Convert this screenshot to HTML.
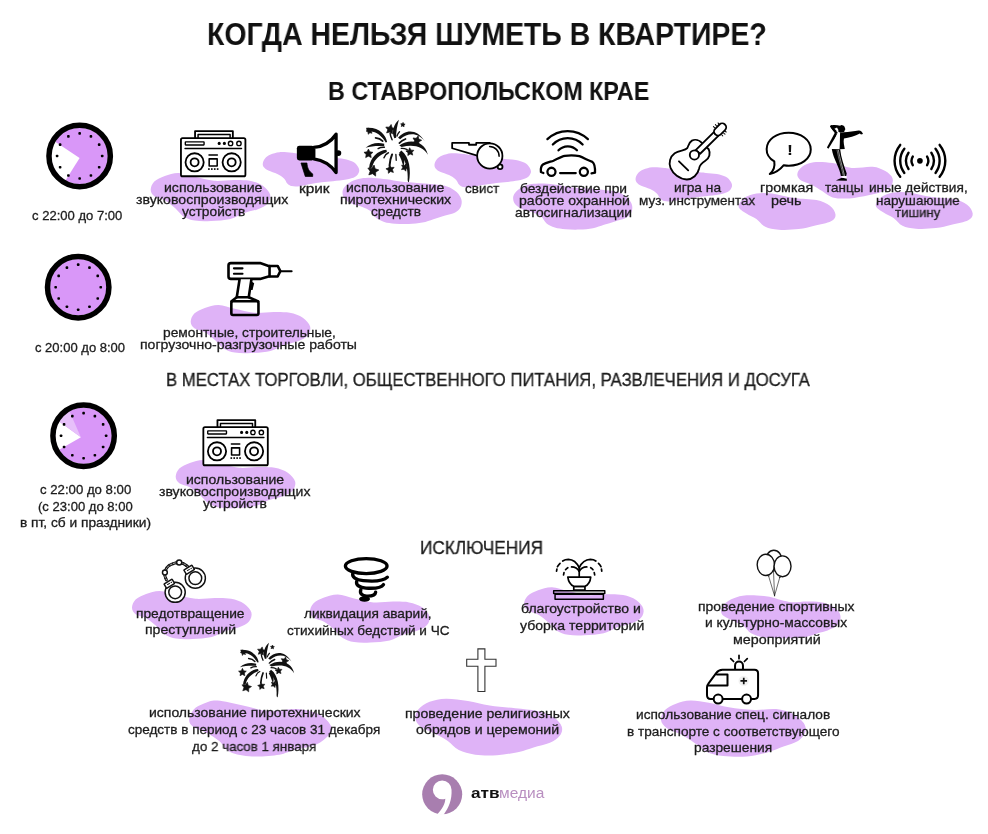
<!DOCTYPE html>
<html lang="ru"><head><meta charset="utf-8"><title>Когда нельзя шуметь в квартире?</title>
<style>
html,body{margin:0;padding:0;background:#fff}
body{width:988px;height:834px;position:relative;overflow:hidden;font-family:"Liberation Sans",sans-serif;color:#1c1c1c}
.art{position:absolute;left:0;top:0}
.t,.b{position:absolute;white-space:nowrap;line-height:1;transform-origin:0 0;will-change:transform}
.t{-webkit-text-stroke:0.3px #1c1c1c}
.b{font-weight:700;color:#111}
.logo{position:absolute;white-space:nowrap;line-height:1;transform-origin:0 0;will-change:transform}
</style></head><body>
<svg class="art" width="988" height="834" viewBox="0 0 988 834">
<g fill="#dfb3f7">
<path d="M150.7 189.7C150.7 187.3 152.0 183.9 154.3 181.6C156.7 179.3 160.8 177.4 164.8 176.0C168.9 174.6 173.6 172.9 178.6 173.0C183.6 173.1 188.9 175.5 194.8 176.8C200.7 178.1 207.7 180.3 214.2 180.8C220.7 181.3 227.7 180.0 233.6 180.0C239.5 180.0 244.9 179.9 249.8 180.8C254.7 181.8 259.4 183.4 262.8 185.7C266.2 188.0 269.3 191.6 270.1 194.6C270.9 197.6 269.7 201.1 267.7 203.5C265.7 205.9 261.9 207.6 257.9 209.2C253.8 210.8 248.0 211.6 243.4 213.2C238.8 214.8 235.8 217.6 230.4 218.9C225.0 220.2 216.9 220.7 211.0 221.0C205.1 221.3 199.4 221.3 194.8 220.5C190.2 219.7 186.7 218.4 183.4 216.4C180.2 214.4 178.4 211.0 175.3 208.3C172.2 205.6 168.3 202.2 164.8 200.2C161.3 198.2 156.7 197.9 154.3 196.2C152.0 194.4 150.7 192.1 150.7 189.7Z"/>
<path d="M262.8 163.4C263.0 161.9 263.7 159.9 265.0 158.4C266.3 156.9 268.2 155.5 270.6 154.5C273.0 153.5 276.0 152.5 279.5 152.2C283.0 151.9 288.4 152.5 291.7 152.8C295.0 153.1 294.5 153.2 299.5 153.9C304.5 154.6 316.2 156.0 321.8 156.7C327.4 157.3 329.3 157.4 333.0 157.8C336.7 158.2 340.8 158.2 344.1 158.9C347.4 159.6 350.7 160.4 353.0 161.7C355.3 163.0 357.0 165.0 358.0 166.7C359.0 168.4 359.6 170.0 359.1 171.7C358.6 173.4 357.3 175.4 355.2 176.7C353.1 178.0 350.0 178.8 346.3 179.5C342.6 180.2 337.1 180.7 333.0 181.2C328.9 181.7 325.5 181.8 321.8 182.3C318.1 182.8 314.4 183.3 310.7 184.0C307.0 184.7 302.7 185.9 299.5 186.2C296.3 186.5 293.7 186.5 291.7 186.0C289.7 185.5 288.6 184.7 287.3 183.4C286.0 182.1 285.7 180.0 284.0 178.4C282.3 176.8 279.9 175.3 277.3 174.0C274.7 172.7 270.6 171.7 268.4 170.6C266.2 169.5 264.8 168.5 263.9 167.3C263.0 166.1 262.6 164.9 262.8 163.4Z"/>
<path d="M342.5 192.5C342.5 190.6 343.1 188.9 344.6 187.1C346.1 185.3 348.7 183.0 351.4 181.6C354.1 180.2 357.4 179.1 361.0 178.5C364.6 177.9 369.0 177.8 373.3 177.9C377.6 178.0 382.3 178.7 386.9 179.3C391.4 179.9 395.6 181.0 400.6 181.6C405.6 182.2 411.5 182.6 417.0 183.0C422.5 183.4 428.4 183.7 433.4 184.3C438.4 184.9 443.1 185.1 447.0 186.4C450.9 187.7 454.2 189.7 456.6 191.9C459.0 194.1 460.7 196.9 461.4 199.4C462.1 201.9 461.7 204.7 460.7 206.9C459.7 209.1 457.9 210.9 455.2 212.4C452.5 213.9 447.9 214.7 444.3 215.8C440.7 216.9 437.0 218.1 433.4 219.2C429.8 220.3 426.5 221.8 422.4 222.6C418.3 223.4 413.4 223.8 408.8 224.0C404.2 224.2 399.2 224.0 395.1 223.7C391.0 223.3 387.4 222.9 384.2 221.9C381.0 220.9 378.3 219.6 376.0 217.8C373.7 216.0 372.8 212.8 370.5 211.0C368.2 209.2 365.5 208.2 362.3 206.9C359.1 205.7 354.3 204.9 351.4 203.5C348.4 202.1 346.1 200.5 344.6 198.7C343.1 196.9 342.5 194.4 342.5 192.5Z"/>
<path d="M434.5 164.5C434.7 163.0 435.4 161.0 436.7 159.5C438.0 158.0 439.9 156.6 442.3 155.6C444.7 154.6 447.7 153.6 451.2 153.3C454.7 153.0 460.1 153.6 463.4 153.9C466.7 154.2 466.2 154.3 471.2 155.0C476.2 155.7 487.9 157.1 493.5 157.8C499.1 158.4 501.0 158.5 504.7 158.9C508.4 159.3 512.5 159.3 515.8 160.0C519.1 160.7 522.4 161.5 524.7 162.8C527.0 164.1 528.7 166.1 529.7 167.8C530.7 169.5 531.3 171.1 530.8 172.8C530.3 174.5 529.0 176.5 526.9 177.8C524.8 179.1 521.7 179.8 518.0 180.6C514.3 181.3 508.8 181.8 504.7 182.3C500.6 182.8 497.2 182.9 493.5 183.4C489.8 183.9 486.1 184.4 482.4 185.1C478.7 185.8 474.4 187.0 471.2 187.3C468.0 187.6 465.4 187.6 463.4 187.1C461.4 186.6 460.3 185.8 459.0 184.5C457.7 183.2 457.4 181.1 455.7 179.5C454.0 177.9 451.6 176.4 449.0 175.1C446.4 173.8 442.3 172.8 440.1 171.7C437.9 170.6 436.5 169.6 435.6 168.4C434.7 167.2 434.3 166.0 434.5 164.5Z"/>
<path d="M513.1 198.1C513.1 196.2 513.7 194.5 515.2 192.7C516.7 190.9 519.3 188.6 522.0 187.2C524.7 185.8 528.0 184.7 531.6 184.1C535.2 183.5 539.6 183.4 543.9 183.5C548.2 183.6 553.0 184.3 557.5 184.9C562.0 185.5 566.2 186.6 571.2 187.2C576.2 187.8 582.1 188.1 587.6 188.6C593.1 189.1 599.0 189.3 604.0 189.9C609.0 190.5 613.7 190.7 617.6 192.0C621.5 193.3 624.8 195.3 627.2 197.5C629.6 199.7 631.3 202.5 632.0 205.0C632.7 207.5 632.3 210.3 631.3 212.5C630.3 214.7 628.5 216.5 625.8 218.0C623.1 219.5 618.5 220.3 614.9 221.4C611.3 222.5 607.6 223.7 604.0 224.8C600.4 225.9 597.1 227.4 593.0 228.2C588.9 229.0 583.9 229.4 579.4 229.6C574.9 229.8 569.8 229.6 565.7 229.3C561.6 228.9 558.0 228.5 554.8 227.5C551.6 226.5 548.9 225.2 546.6 223.4C544.3 221.6 543.4 218.4 541.1 216.6C538.8 214.8 536.1 213.8 532.9 212.5C529.7 211.2 525.0 210.5 522.0 209.1C519.0 207.7 516.7 206.1 515.2 204.3C513.7 202.5 513.1 200.0 513.1 198.1Z"/>
<path d="M635.6 178.5C635.8 177.0 636.5 175.0 637.8 173.5C639.1 172.0 641.0 170.6 643.4 169.6C645.8 168.6 648.8 167.6 652.3 167.3C655.8 167.0 661.2 167.6 664.5 167.9C667.8 168.2 667.3 168.3 672.3 169.0C677.3 169.7 689.0 171.1 694.6 171.8C700.2 172.4 702.1 172.5 705.8 172.9C709.5 173.3 713.6 173.3 716.9 174.0C720.2 174.7 723.5 175.5 725.8 176.8C728.1 178.1 729.8 180.1 730.8 181.8C731.8 183.5 732.4 185.1 731.9 186.8C731.4 188.5 730.1 190.5 728.0 191.8C725.9 193.1 722.8 193.8 719.1 194.6C715.4 195.3 709.9 195.8 705.8 196.3C701.7 196.8 698.3 196.9 694.6 197.4C690.9 197.9 687.2 198.4 683.5 199.1C679.8 199.8 675.5 201.0 672.3 201.3C669.1 201.6 666.5 201.6 664.5 201.1C662.5 200.6 661.4 199.8 660.1 198.5C658.8 197.2 658.5 195.1 656.8 193.5C655.1 191.9 652.7 190.4 650.1 189.1C647.5 187.8 643.4 186.8 641.2 185.7C639.0 184.6 637.6 183.6 636.7 182.4C635.8 181.2 635.4 180.0 635.6 178.5Z"/>
<path d="M738.6 206.8C738.2 204.2 741.2 200.1 744.2 197.9C747.2 195.7 751.8 194.2 756.4 193.4C761.0 192.7 765.7 192.7 772.0 193.4C778.3 194.2 786.9 196.8 794.3 197.9C801.7 199.0 810.6 198.8 816.5 200.1C822.4 201.4 826.7 203.3 829.9 205.7C833.1 208.1 835.3 212.0 835.5 214.6C835.7 217.2 834.5 219.5 831.0 221.3C827.5 223.2 819.7 224.4 814.3 225.7C808.9 227.0 804.6 228.4 798.7 229.1C792.8 229.8 784.3 230.1 778.7 229.7C773.1 229.3 769.0 228.6 765.3 226.8C761.6 225.0 759.5 221.2 756.4 219.0C753.2 216.8 749.4 215.5 746.4 213.5C743.4 211.5 739.0 209.4 738.6 206.8Z"/>
<path d="M797.3 174.2C797.5 171.9 799.4 168.8 802.1 166.8C804.8 164.8 808.6 162.8 813.7 162.2C818.8 161.6 826.3 162.1 832.6 163.1C838.9 164.1 844.9 167.3 851.6 167.9C858.3 168.5 867.0 166.3 872.6 166.8C878.2 167.3 882.0 169.2 885.3 171.1C888.6 173.0 891.7 175.8 892.6 178.4C893.5 181.0 892.4 184.5 890.5 186.8C888.6 189.1 884.8 190.7 881.1 192.1C877.4 193.5 873.7 194.2 868.4 195.3C863.1 196.4 855.5 198.1 849.5 198.4C843.5 198.8 837.2 198.6 832.6 197.4C828.0 196.2 825.6 193.2 822.1 191.1C818.6 189.0 815.1 186.5 811.6 184.7C808.1 182.9 803.5 182.2 801.1 180.5C798.7 178.8 797.1 176.5 797.3 174.2Z"/>
<path d="M875.8 205.8C875.4 203.2 878.4 199.1 881.4 196.9C884.4 194.7 889.0 193.2 893.6 192.4C898.2 191.7 902.9 191.7 909.2 192.4C915.5 193.2 924.1 195.8 931.5 196.9C938.9 198.0 947.8 197.8 953.7 199.1C959.6 200.4 963.9 202.3 967.1 204.7C970.3 207.1 972.5 211.0 972.7 213.6C972.9 216.2 971.7 218.5 968.2 220.3C964.7 222.2 956.9 223.4 951.5 224.7C946.1 226.0 941.8 227.4 935.9 228.1C930.0 228.8 921.5 229.1 915.9 228.7C910.3 228.3 906.2 227.6 902.5 225.8C898.8 224.0 896.7 220.2 893.6 218.0C890.4 215.8 886.6 214.5 883.6 212.5C880.6 210.5 876.2 208.4 875.8 205.8Z"/>
<path d="M190.7 321.7C190.7 319.3 192.0 315.9 194.3 313.6C196.7 311.3 200.8 309.4 204.8 308.0C208.9 306.6 213.6 304.9 218.6 305.0C223.6 305.1 228.9 307.5 234.8 308.8C240.7 310.1 247.7 312.3 254.2 312.8C260.7 313.3 267.7 312.0 273.6 312.0C279.5 312.0 284.9 311.9 289.8 312.8C294.7 313.8 299.4 315.4 302.8 317.7C306.2 320.0 309.3 323.6 310.1 326.6C310.9 329.6 309.7 333.1 307.7 335.5C305.7 337.9 301.9 339.6 297.9 341.2C293.8 342.8 288.0 343.6 283.4 345.2C278.8 346.8 275.8 349.6 270.4 350.9C265.0 352.2 256.9 352.7 251.0 353.0C245.1 353.3 239.4 353.3 234.8 352.5C230.2 351.7 226.7 350.4 223.4 348.4C220.2 346.4 218.4 343.0 215.3 340.3C212.2 337.6 208.3 334.2 204.8 332.2C201.3 330.2 196.7 329.9 194.3 328.2C192.0 326.4 190.7 324.1 190.7 321.7Z"/>
<path d="M175.7 476.7C175.7 474.3 177.0 470.9 179.3 468.6C181.7 466.3 185.8 464.4 189.8 463.0C193.9 461.6 198.6 459.9 203.6 460.0C208.6 460.1 213.9 462.5 219.8 463.8C225.7 465.1 232.7 467.3 239.2 467.8C245.7 468.3 252.7 467.0 258.6 467.0C264.5 467.0 269.9 466.9 274.8 467.8C279.7 468.8 284.4 470.4 287.8 472.7C291.2 475.0 294.3 478.6 295.1 481.6C295.9 484.6 294.7 488.1 292.7 490.5C290.7 492.9 286.9 494.6 282.9 496.2C278.8 497.8 273.0 498.6 268.4 500.2C263.8 501.8 260.8 504.6 255.4 505.9C250.0 507.2 241.9 507.7 236.0 508.0C230.1 508.3 224.4 508.3 219.8 507.5C215.2 506.7 211.7 505.4 208.4 503.4C205.2 501.4 203.4 498.0 200.3 495.3C197.2 492.6 193.3 489.2 189.8 487.2C186.3 485.2 181.7 484.9 179.3 483.2C177.0 481.4 175.7 479.1 175.7 476.7Z"/>
<path d="M132.0 607.7C132.0 605.3 133.3 601.9 135.6 599.6C138.0 597.3 142.1 595.4 146.1 594.0C150.2 592.6 154.9 590.9 159.9 591.0C164.9 591.1 170.2 593.5 176.1 594.8C182.0 596.1 189.0 598.3 195.5 598.8C202.0 599.3 209.0 598.0 214.9 598.0C220.8 598.0 226.2 597.8 231.1 598.8C236.0 599.8 240.7 601.4 244.1 603.7C247.5 606.0 250.6 609.6 251.4 612.6C252.2 615.6 251.0 619.1 249.0 621.5C247.0 623.9 243.2 625.6 239.2 627.2C235.1 628.8 229.3 629.6 224.7 631.2C220.1 632.8 217.1 635.6 211.7 636.9C206.3 638.2 198.2 638.7 192.3 639.0C186.4 639.3 180.7 639.3 176.1 638.5C171.5 637.7 167.9 636.4 164.7 634.4C161.4 632.4 159.7 629.0 156.6 626.3C153.5 623.6 149.6 620.2 146.1 618.2C142.6 616.2 138.0 616.0 135.6 614.2C133.3 612.5 132.0 610.1 132.0 607.7Z"/>
<path d="M310.0 611.3C310.0 608.9 311.2 605.5 313.6 603.2C316.0 600.9 320.1 599.0 324.1 597.6C328.2 596.2 332.9 594.5 337.9 594.6C342.9 594.7 348.2 597.1 354.1 598.4C360.0 599.7 367.0 601.9 373.5 602.4C380.0 602.9 387.0 601.6 392.9 601.6C398.8 601.6 404.2 601.5 409.1 602.4C414.0 603.4 418.7 605.0 422.1 607.3C425.5 609.6 428.6 613.2 429.4 616.2C430.2 619.2 429.0 622.7 427.0 625.1C425.0 627.5 421.2 629.2 417.2 630.8C413.1 632.4 407.3 633.2 402.7 634.8C398.1 636.4 395.1 639.2 389.7 640.5C384.3 641.8 376.2 642.3 370.3 642.6C364.4 642.9 358.7 642.9 354.1 642.1C349.5 641.3 345.9 640.0 342.7 638.0C339.4 636.0 337.7 632.6 334.6 629.9C331.5 627.2 327.6 623.8 324.1 621.8C320.6 619.8 316.0 619.5 313.6 617.8C311.2 616.0 310.0 613.7 310.0 611.3Z"/>
<path d="M524.0 604.0C524.0 601.6 525.2 598.2 527.6 595.9C530.0 593.6 534.1 591.7 538.1 590.3C542.1 588.9 546.9 587.2 551.9 587.3C556.9 587.4 562.2 589.8 568.1 591.1C574.0 592.4 581.0 594.6 587.5 595.1C594.0 595.6 601.0 594.3 606.9 594.3C612.8 594.3 618.2 594.1 623.1 595.1C628.0 596.1 632.7 597.7 636.1 600.0C639.5 602.3 642.6 605.9 643.4 608.9C644.2 611.9 643.0 615.4 641.0 617.8C639.0 620.2 635.2 621.9 631.2 623.5C627.2 625.1 621.3 625.9 616.7 627.5C612.1 629.1 609.1 631.9 603.7 633.2C598.3 634.5 590.2 635.0 584.3 635.3C578.4 635.6 572.7 635.6 568.1 634.8C563.5 634.0 560.0 632.7 556.7 630.7C553.5 628.7 551.7 625.3 548.6 622.6C545.5 619.9 541.6 616.5 538.1 614.5C534.6 612.5 530.0 612.2 527.6 610.5C525.2 608.8 524.0 606.4 524.0 604.0Z"/>
<path d="M721.1 611.4C721.0 609.5 721.8 607.0 723.5 605.0C725.2 603.0 728.1 600.8 731.3 599.3C734.5 597.8 738.4 596.4 742.6 595.8C746.9 595.1 752.3 595.2 756.8 595.4C761.3 595.6 765.5 596.0 769.5 596.8C773.5 597.6 777.1 599.1 780.9 600.0C784.7 600.9 788.0 602.0 792.2 602.2C796.5 602.5 801.7 601.5 806.4 601.5C811.1 601.5 816.2 601.5 820.5 602.2C824.8 602.9 828.8 604.1 831.9 605.7C835.0 607.4 837.6 609.9 839.0 612.1C840.4 614.4 840.8 617.0 840.4 619.2C840.0 621.5 838.9 623.7 836.8 625.6C834.7 627.5 830.8 629.2 827.6 630.5C824.4 631.8 821.2 632.2 817.7 633.3C814.2 634.4 810.6 636.1 806.4 636.9C802.1 637.7 797.1 638.1 792.2 638.3C787.3 638.5 781.7 638.1 777.0 638.0C772.3 637.9 768.1 638.4 763.8 637.6C759.5 636.8 754.4 635.2 751.1 633.3C747.8 631.4 746.8 628.3 744.0 626.3C741.2 624.3 737.4 623.0 734.1 621.3C730.8 619.6 726.4 617.9 724.2 616.3C722.0 614.6 721.2 613.3 721.1 611.4Z"/>
<path d="M189.1 720.1C189.1 717.1 191.2 712.3 193.7 709.5C196.2 706.7 200.1 705.0 204.0 703.5C207.9 702.0 210.9 700.3 217.4 700.6C223.9 700.9 234.4 703.8 242.9 705.5C251.4 707.2 259.3 710.4 268.4 711.0C277.5 711.6 289.0 708.5 297.5 709.1C306.0 709.7 313.8 711.7 319.4 714.6C325.0 717.5 329.7 722.9 331.2 726.4C332.7 729.9 331.1 732.5 328.5 735.5C325.9 738.5 321.5 742.3 315.7 744.7C309.9 747.1 300.0 748.4 293.9 750.1C287.8 751.8 286.3 753.6 279.3 754.7C272.3 755.8 260.2 757.0 252.0 756.5C243.8 756.0 235.6 754.6 230.1 752.0C224.6 749.4 223.1 744.2 219.2 741.0C215.2 737.8 210.7 735.1 206.4 732.8C202.2 730.5 196.6 729.4 193.7 727.3C190.8 725.2 189.1 723.1 189.1 720.1Z"/>
<path d="M415.4 718.2C415.1 715.3 416.3 711.8 418.7 709.1C421.1 706.4 425.1 703.5 429.6 701.8C434.2 700.1 439.6 698.9 446.0 698.7C452.4 698.6 460.6 699.8 467.9 700.9C475.2 702.0 481.8 704.3 489.7 705.5C497.6 706.7 507.3 707.3 515.2 708.2C523.1 709.1 530.7 709.5 537.1 711.0C543.5 712.5 549.4 714.7 553.5 717.3C557.6 719.9 560.6 723.4 561.7 726.4C562.8 729.4 561.9 732.8 559.9 735.5C557.9 738.2 554.3 740.8 549.9 742.8C545.5 744.8 538.7 745.9 533.5 747.4C528.3 748.9 525.0 750.6 518.9 751.9C512.8 753.2 504.3 754.7 497.0 755.2C489.7 755.7 481.6 755.6 475.2 754.7C468.8 753.9 463.4 752.4 458.8 750.1C454.2 747.8 451.8 743.7 447.8 741.0C443.9 738.3 439.7 736.1 435.1 733.7C430.6 731.3 423.8 729.0 420.5 726.4C417.2 723.8 415.7 721.1 415.4 718.2Z"/>
<path d="M661.0 720.1C660.7 717.1 662.5 712.7 665.0 710.0C667.5 707.3 671.8 705.3 676.0 703.7C680.2 702.1 685.0 700.8 690.5 700.6C696.0 700.5 702.4 701.7 708.8 702.8C715.2 703.9 721.2 706.1 728.8 707.3C736.4 708.5 746.4 709.7 754.3 710.0C762.2 710.3 769.8 708.5 776.2 709.1C782.6 709.7 788.1 711.4 792.6 713.7C797.1 716.0 801.4 719.8 803.5 722.8C805.6 725.8 806.2 728.9 805.3 731.9C804.4 734.9 801.6 738.6 798.0 741.0C794.4 743.4 788.4 744.7 783.5 746.5C778.6 748.3 775.0 750.2 768.9 751.9C762.8 753.6 754.6 755.8 747.0 756.5C739.4 757.2 730.0 756.8 723.3 756.0C716.6 755.2 711.8 754.1 706.9 751.9C702.0 749.7 698.5 745.7 694.2 742.8C690.0 739.9 686.0 737.0 681.4 734.6C676.8 732.2 670.3 730.7 666.9 728.3C663.5 725.9 661.3 723.1 661.0 720.1Z"/>
</g>
<circle cx="79.65" cy="155.95" r="28.25" fill="#d997f8"/><path d="M79.60 158.00 L65.53 180.42 A28.25 28.25 0 0 1 55.18 141.82 Z" fill="#fff"/><circle cx="79.65" cy="155.95" r="30.70" fill="none" stroke="#000" stroke-width="5.50"/><rect x="78.35" y="132.10" width="2.6" height="2.6" rx="0.8" fill="#000"/><rect x="89.63" y="135.12" width="2.6" height="2.6" rx="0.8" fill="#000"/><rect x="97.88" y="143.37" width="2.6" height="2.6" rx="0.8" fill="#000"/><rect x="100.90" y="154.65" width="2.6" height="2.6" rx="0.8" fill="#000"/><rect x="97.88" y="165.92" width="2.6" height="2.6" rx="0.8" fill="#000"/><rect x="89.63" y="174.18" width="2.6" height="2.6" rx="0.8" fill="#000"/><rect x="78.35" y="177.20" width="2.6" height="2.6" rx="0.8" fill="#000"/><rect x="67.08" y="174.18" width="2.6" height="2.6" rx="0.8" fill="#000"/><rect x="58.82" y="165.92" width="2.6" height="2.6" rx="0.8" fill="#000"/><rect x="55.80" y="154.65" width="2.6" height="2.6" rx="0.8" fill="#000"/><rect x="58.82" y="143.37" width="2.6" height="2.6" rx="0.8" fill="#000"/><rect x="67.08" y="135.12" width="2.6" height="2.6" rx="0.8" fill="#000"/>
<circle cx="78.20" cy="287.20" r="28.25" fill="#d997f8"/><circle cx="78.20" cy="287.20" r="30.70" fill="none" stroke="#000" stroke-width="5.50"/><rect x="76.90" y="263.35" width="2.6" height="2.6" rx="0.8" fill="#000"/><rect x="88.17" y="266.37" width="2.6" height="2.6" rx="0.8" fill="#000"/><rect x="96.43" y="274.62" width="2.6" height="2.6" rx="0.8" fill="#000"/><rect x="99.45" y="285.90" width="2.6" height="2.6" rx="0.8" fill="#000"/><rect x="96.43" y="297.17" width="2.6" height="2.6" rx="0.8" fill="#000"/><rect x="88.17" y="305.43" width="2.6" height="2.6" rx="0.8" fill="#000"/><rect x="76.90" y="308.45" width="2.6" height="2.6" rx="0.8" fill="#000"/><rect x="65.62" y="305.43" width="2.6" height="2.6" rx="0.8" fill="#000"/><rect x="57.37" y="297.18" width="2.6" height="2.6" rx="0.8" fill="#000"/><rect x="54.35" y="285.90" width="2.6" height="2.6" rx="0.8" fill="#000"/><rect x="57.37" y="274.62" width="2.6" height="2.6" rx="0.8" fill="#000"/><rect x="65.62" y="266.37" width="2.6" height="2.6" rx="0.8" fill="#000"/>
<circle cx="83.60" cy="435.70" r="28.25" fill="#d997f8"/><path d="M80.90 437.20 L59.13 449.82 A28.25 28.25 0 0 1 59.13 421.57 Z" fill="#fff"/><path d="M80.90 437.20 L59.13 421.57 A28.25 28.25 0 0 1 69.47 411.23 Z" fill="#e7c0fa"/><circle cx="83.60" cy="435.70" r="30.70" fill="none" stroke="#000" stroke-width="5.50"/><rect x="82.30" y="411.85" width="2.6" height="2.6" rx="0.8" fill="#000"/><rect x="93.58" y="414.87" width="2.6" height="2.6" rx="0.8" fill="#000"/><rect x="101.83" y="423.12" width="2.6" height="2.6" rx="0.8" fill="#000"/><rect x="104.85" y="434.40" width="2.6" height="2.6" rx="0.8" fill="#000"/><rect x="101.83" y="445.67" width="2.6" height="2.6" rx="0.8" fill="#000"/><rect x="93.58" y="453.93" width="2.6" height="2.6" rx="0.8" fill="#000"/><rect x="82.30" y="456.95" width="2.6" height="2.6" rx="0.8" fill="#000"/><rect x="71.02" y="453.93" width="2.6" height="2.6" rx="0.8" fill="#000"/><rect x="62.77" y="445.68" width="2.6" height="2.6" rx="0.8" fill="#000"/><rect x="59.75" y="434.40" width="2.6" height="2.6" rx="0.8" fill="#000"/><rect x="62.77" y="423.12" width="2.6" height="2.6" rx="0.8" fill="#000"/><rect x="71.02" y="414.87" width="2.6" height="2.6" rx="0.8" fill="#000"/>
<svg x="170.00" y="122.00" width="90.00" height="60.00" viewBox="0 0 988 659" overflow="visible"><g fill="none" stroke="#000" stroke-width="20" stroke-linejoin="round" stroke-linecap="round"><path d="M275 170V100H690V170" /><path d="M308 170V138H660V170" stroke-width="16"/><rect x="120" y="178" width="708" height="418" rx="18" fill="#fff"/><rect x="168" y="218" width="206" height="34" rx="4" stroke-width="15"/><path d="M165 291H785" stroke-width="16"/><circle cx="270" cy="443" r="100"/><circle cx="270" cy="443" r="44"/><circle cx="677" cy="443" r="100"/><circle cx="677" cy="443" r="44"/><circle cx="665" cy="235" r="24" stroke-width="15"/><circle cx="757" cy="235" r="24" stroke-width="15"/><rect x="430" y="405" width="88" height="78" stroke-width="17"/><path d="M428 362H520" stroke-width="16"/></g><circle cx="540" cy="235" r="17"/><circle cx="597" cy="235" r="17"/><g fill="#000"><rect x="418" y="508" width="18" height="18"/><rect x="450" y="508" width="18" height="18"/><rect x="482" y="508" width="18" height="18"/><rect x="514" y="508" width="18" height="18"/></g></svg>
<svg x="285.00" y="125.00" width="70.00" height="60.00" viewBox="0 0 973 834" overflow="visible"><path d="M400 312 C540 300 640 230 710 128 V660 C640 560 540 490 400 470Z" fill="#fff" stroke="#000" stroke-width="46" stroke-linejoin="round"/><rect x="165" y="290" width="240" height="202" rx="34" fill="#000"/><circle cx="742" cy="390" r="40" fill="#000"/><path d="M222 528H305 C310 600 330 640 385 680 V715 H282 Z" fill="#000" stroke="#000" stroke-width="10" stroke-linejoin="round"/></svg>
<svg x="355.00" y="115.00" width="80.00" height="70.00" viewBox="0 0 953 834" overflow="visible"><g fill="#111"><path d="M382 322 C368 240 290 140 135 152 C128 175 150 200 178 198 C250 195 320 250 366 328Z"/><path d="M468 278 C432 200 462 110 523 57 C503 130 488 200 490 272Z"/><path d="M513 272 C590 174 735 152 832 314 C748 206 632 208 538 290Z"/><path d="M528 362 C640 282 828 298 868 474 C810 378 700 346 556 382Z"/><path d="M552 424 C650 500 670 660 642 802 C626 802 626 780 628 740 C628 620 596 525 524 452Z"/><path d="M374 414 C270 420 180 510 168 628 C178 636 200 632 206 616 C226 535 296 475 380 442Z"/><path d="M348 344 C270 322 185 338 126 390 C190 372 270 366 348 372Z"/><path d="M545 452 C592 500 596 565 576 615 C560 560 548 515 520 472Z"/></g><g fill="none" stroke="#111" stroke-linecap="round"><path d="M245 272 C280 275 310 290 330 312" stroke-width="20"/><path d="M275 400 C300 385 325 382 350 384" stroke-width="17"/><path d="M345 510 C355 480 375 460 398 450" stroke-width="17"/><path d="M412 600 C415 550 425 510 442 470" stroke-width="24"/><path d="M487 470 C489 495 490 520 491 540" stroke-width="16"/><path d="M500 250 C505 230 515 215 530 200" stroke-width="16"/><path d="M418 215 C420 245 430 270 442 295" stroke-width="18"/><path d="M528 335 C550 310 575 295 602 285" stroke-width="19"/><path d="M552 398 C575 396 600 402 622 412" stroke-width="17"/></g><g fill="#111" stroke="#111" stroke-width="8" stroke-linejoin="round"><polygon points="161.6,153.4 179.2,173.3 205.5,170.2 192.0,193.0 203.1,217.2 177.2,211.3 157.7,229.3 155.2,202.9 132.1,189.9 156.5,179.4"/><polygon points="430.4,112.9 441.6,151.2 479.4,163.6 446.5,186.1 446.3,225.9 414.8,201.5 376.8,213.7 390.3,176.2 367.0,143.8 406.8,145.0"/><polygon points="572.4,88.1 579.2,105.4 597.3,109.7 582.9,121.5 584.4,140.0 568.8,129.9 551.6,137.1 556.4,119.1 544.2,105.1 562.8,104.0"/><polygon points="752.5,249.9 759.8,286.4 793.9,301.1 761.5,319.2 758.1,356.3 730.8,331.0 694.5,339.2 710.0,305.5 691.0,273.5 728.0,277.9"/><polygon points="650.6,390.2 667.9,418.6 701.0,420.5 679.4,445.6 687.8,477.7 657.2,464.9 629.2,482.9 632.0,449.8 606.3,428.8 638.6,421.1"/><polygon points="160.0,406.0 176.5,439.3 213.3,444.7 186.6,470.7 192.9,507.3 160.0,490.0 127.1,507.3 133.4,470.7 106.7,444.7 143.5,439.3"/><polygon points="227.2,596.1 240.2,640.7 284.3,655.3 245.9,681.4 245.7,727.9 208.9,699.5 164.6,713.6 180.3,669.9 153.2,632.1 199.7,633.5"/><polygon points="411.0,596.8 431.4,624.6 465.9,623.6 445.7,651.6 457.4,684.1 424.5,673.6 397.2,694.7 397.0,660.2 368.5,640.8 401.3,629.9"/><polygon points="607.7,581.8 611.1,612.1 638.0,626.6 610.1,639.2 604.7,669.2 584.1,646.6 553.9,650.7 569.0,624.2 555.8,596.7 585.7,602.9"/></g></svg>
<svg x="440.00" y="128.00" width="80.00" height="60.00" viewBox="0 0 988 741" overflow="visible"><g fill="#fff" stroke="#000" stroke-width="22" stroke-linejoin="round" stroke-linecap="round"><circle cx="742" cy="478" r="30"/><path d="M150 185H358V207H447V185H615 L470 345 L150 250Z"/><circle cx="615" cy="345" r="156"/><path d="M612 228 A118 118 0 0 1 730 350" fill="none" stroke-width="18"/></g></svg>
<svg x="530.00" y="122.00" width="80.00" height="60.00" viewBox="0 0 988 741" overflow="visible"><g fill="none" stroke="#000" stroke-width="28" stroke-linecap="round" stroke-linejoin="round"><path d="M215 212 A362 362 0 0 1 715 212"/><path d="M282 277 A254 254 0 0 1 650 277"/><path d="M352 350 A157 157 0 0 1 580 348"/><path d="M165 630 L135 618 C130 575 135 545 160 525 C200 500 260 490 290 478 C340 455 390 425 430 418 C490 410 560 412 610 422 C660 440 720 475 770 492 C795 510 805 560 803 625 L760 634"/><circle cx="265" cy="615" r="50"/><circle cx="665" cy="615" r="50"/><path d="M372 630H565"/></g></svg>
<svg x="660.00" y="115.00" width="80.00" height="70.00" viewBox="0 0 953 834" overflow="visible"><g fill="#fff" stroke="#000" stroke-width="22" stroke-linejoin="round" stroke-linecap="round"><path d="M500 332 C470 300 420 285 380 305 C345 325 340 365 325 395 C300 425 230 420 175 455 C120 495 100 570 125 630 C155 700 230 765 320 768 C390 765 450 710 465 640 C470 600 500 570 540 545 C590 515 605 455 580 408Z"/><path d="M425 418 L645 200 L695 248 L478 462Z"/><rect x="-82" y="-47" width="164" height="94" rx="46" transform="translate(716,172) rotate(-45)"/><circle cx="410" cy="476" r="55"/><path d="M226 552 L336 660" fill="none"/></g><g stroke="#000" stroke-width="12" stroke-linecap="round"><path d="M650 150l-14 -12M672 128l-12 -14M700 108l-8 -14M775 195l14 8M760 218l14 10M738 238l10 12"/></g></svg>
<svg x="755.00" y="125.00" width="70.00" height="60.00" viewBox="0 0 973 834" overflow="visible"><path d="M268 505 C190 460 160 400 162 335 C165 200 300 108 468 108 C640 108 775 205 775 340 C775 470 640 565 470 565 C445 565 420 562 400 558 C350 620 290 665 205 680 C255 640 280 580 268 505Z" fill="#fff" stroke="#000" stroke-width="28" stroke-linejoin="round"/></svg>
<svg x="815.00" y="118.00" width="60.00" height="70.00" viewBox="0 0 715 834" overflow="visible"><g fill="#000"><path d="M180 95 C200 78 260 80 300 92 C310 75 340 85 352 105 L362 135 C350 145 355 160 345 168 L300 175 L262 150 L240 170 L215 150 C200 130 185 115 180 95Z"/><path d="M178 98 L198 84 L272 178 L244 192Z"/><path d="M232 128 L262 112 L282 150 L262 158Z" fill="#fff"/><path d="M238 172 L268 190 L160 365 L142 352Z"/><path d="M300 175 L345 170 C400 168 470 160 520 150 C545 148 565 170 572 190 L548 198 L535 185 C480 215 400 235 345 245 C335 290 350 330 355 368 L290 372 C295 300 290 240 300 175Z"/><path d="M200 368 L300 372 C310 470 345 570 378 660 L372 690 L308 692 C300 600 215 480 200 368Z"/><path d="M250 745 C270 730 300 722 325 712 L378 722 L380 748Z"/></g><path d="M262 192 L298 188 L290 370 L198 350Z" fill="#fff"/><path d="M278 380 C295 480 330 590 352 690" fill="none" stroke="#fff" stroke-width="7"/><path d="M262 380 C280 480 315 590 338 690" fill="none" stroke="#fff" stroke-width="5"/><path d="M310 694 L376 690 L378 720 L325 712Z" fill="#fff"/></svg>
<svg x="885.00" y="135.00" width="70.00" height="52.00" viewBox="0 0 988 734" overflow="visible"><circle cx="493" cy="365" r="40" fill="#000"/><g fill="none" stroke="#000" stroke-width="34" stroke-linecap="round"><path d="M391.9 304.2 A118 118 0 0 0 391.9 425.8"/><path d="M594.1 304.2 A118 118 0 0 1 594.1 425.8"/><path d="M331.8 250.0 A198 198 0 0 0 331.8 480.0"/><path d="M654.2 250.0 A198 198 0 0 1 654.2 480.0"/><path d="M273.0 195.0 A278 278 0 0 0 273.0 535.0"/><path d="M713.0 195.0 A278 278 0 0 1 713.0 535.0"/><path d="M214.8 139.7 A358 358 0 0 0 214.8 590.3"/><path d="M771.2 139.7 A358 358 0 0 1 771.2 590.3"/></g></svg>
<svg x="220.00" y="255.00" width="80.00" height="66.00" viewBox="0 0 988 815" overflow="visible"><g fill="none" stroke="#000" stroke-width="32" stroke-linejoin="round" stroke-linecap="round"><path d="M135 100 H495 L600 135 H712 L745 200 L712 265 H600 L495 295 H135 C115 295 105 285 105 265 V130 C105 110 115 100 135 100Z" fill="#fff"/><path d="M612 137V263"/><path d="M172 165H278M172 232H278" stroke-width="26"/><path d="M750 200H885" stroke-width="24"/><path d="M242 300 L207 522 L355 522 L388 300" fill="#fff"/><path d="M207 522 L142 572 M355 522 L472 572"/><rect x="140" y="572" width="335" height="168" rx="20"/></g><path d="M385 325 L422 348 L402 432 L372 432Z" fill="#000"/></svg>
<svg x="192.40" y="411.00" width="90.00" height="60.00" viewBox="0 0 988 659" overflow="visible"><g fill="none" stroke="#000" stroke-width="20" stroke-linejoin="round" stroke-linecap="round"><path d="M275 170V100H690V170" /><path d="M308 170V138H660V170" stroke-width="16"/><rect x="120" y="178" width="708" height="418" rx="18" fill="#fff"/><rect x="168" y="218" width="206" height="34" rx="4" stroke-width="15"/><path d="M165 291H785" stroke-width="16"/><circle cx="270" cy="443" r="100"/><circle cx="270" cy="443" r="44"/><circle cx="677" cy="443" r="100"/><circle cx="677" cy="443" r="44"/><circle cx="665" cy="235" r="24" stroke-width="15"/><circle cx="757" cy="235" r="24" stroke-width="15"/><rect x="430" y="405" width="88" height="78" stroke-width="17"/><path d="M428 362H520" stroke-width="16"/></g><circle cx="540" cy="235" r="17"/><circle cx="597" cy="235" r="17"/><g fill="#000"><rect x="418" y="508" width="18" height="18"/><rect x="450" y="508" width="18" height="18"/><rect x="482" y="508" width="18" height="18"/><rect x="514" y="508" width="18" height="18"/></g></svg>
<svg x="152.00" y="553.00" width="64.00" height="56.00" viewBox="0 0 953 834" overflow="visible"><g fill="#fff" stroke="#111" stroke-width="22" stroke-linejoin="round" stroke-linecap="round"><path d="M215 400 C190 360 185 320 190 290 C205 230 240 190 275 175 C320 150 370 140 405 140 C450 145 490 165 530 200" fill="none" stroke-width="44"/><path d="M215 400 C190 360 185 320 190 290 C205 230 240 190 275 175 C320 150 370 140 405 140 C450 145 490 165 530 200" fill="none" stroke="#fff" stroke-width="10"/><path d="M215 400 C190 360 185 320 190 290 C205 230 240 190 275 175 C320 150 370 140 405 140 C450 145 490 165 530 200" fill="none" stroke="#111" stroke-width="44" stroke-dasharray="12 42" stroke-dashoffset="-20" stroke-linecap="butt"/><circle cx="192" cy="290" r="36"/><circle cx="405" cy="142" r="38"/><circle cx="345" cy="585" r="150"/><circle cx="345" cy="585" r="95"/><circle cx="645" cy="375" r="150"/><circle cx="645" cy="375" r="95"/><rect x="-70" y="-38" width="140" height="76" rx="6" transform="translate(258,458) rotate(-32)"/><rect x="-70" y="-38" width="140" height="76" rx="6" transform="translate(553,250) rotate(-32)"/></g><g stroke="#111" stroke-width="16" stroke-linecap="round"><path d="M232 470l30 -18M285 440l6 -4M527 262l30 -18M580 232l6 -4"/></g></svg>
<svg x="335.00" y="553.00" width="64.00" height="56.00" viewBox="0 0 953 834" overflow="visible"><g fill="none" stroke="#000" stroke-width="50" stroke-linecap="round"><ellipse cx="465" cy="195" rx="310" ry="112"/><path d="M265 300 C250 360 310 400 420 412 C560 425 720 420 780 360"/><path d="M322 425 C310 480 370 515 460 522 C570 530 690 520 722 470"/><path d="M385 545 C365 600 400 640 470 642 C540 645 600 625 605 585"/></g><ellipse cx="440" cy="685" rx="82" ry="42" fill="#000"/></svg>
<svg x="545.00" y="550.00" width="70.00" height="56.00" viewBox="0 0 988 790" overflow="visible"><g fill="none" stroke="#000" stroke-width="24" stroke-linejoin="round" stroke-linecap="round"><rect x="122" y="575" width="722" height="39" stroke-width="20"/><rect x="142" y="626" width="682" height="68" stroke-width="21"/><rect x="406" y="515" width="158" height="52" fill="#fff"/><path d="M322 382 H645 C640 440 610 490 565 512 H405 C360 490 330 440 322 382Z" fill="#fff"/><path d="M483 375V240"/><path d="M483 250 C450 180 400 135 330 132 C300 132 270 142 250 155"/><path d="M483 250 C515 180 570 135 640 132 C670 132 700 142 718 155"/><path d="M483 300 C460 260 420 238 375 238"/><path d="M483 300 C505 260 545 238 590 238"/><path d="M212 188 C195 205 183 220 176 235 M168 270 L163 298" /><path d="M755 188 C772 205 783 220 790 235 M797 270 L801 298" /><path d="M322 250 C308 258 298 268 290 278 M268 318 L262 350"/><path d="M645 250 C660 258 670 268 677 278 M695 318 L701 350"/></g></svg>
<svg x="745.00" y="544.00" width="60.00" height="58.00" viewBox="0 0 863 834" overflow="visible"><g fill="#fff" stroke="#111" stroke-width="20"><ellipse cx="415" cy="238" rx="118" ry="148"/><ellipse cx="300" cy="300" rx="125" ry="152"/><ellipse cx="540" cy="320" rx="122" ry="150"/></g><g fill="none" stroke="#111" stroke-width="9" stroke-linecap="round"><path d="M340 462L425 745M410 392L425 745M500 480L425 745"/></g><path d="M325 468l28 -4l-6 -22Z M486 486l28 4l-10 -24Z" fill="#111"/></svg>
<svg x="230.73" y="638.65" width="69.67" height="60.96" viewBox="0 0 953 834" overflow="visible"><g fill="#111"><path d="M382 322 C368 240 290 140 135 152 C128 175 150 200 178 198 C250 195 320 250 366 328Z"/><path d="M468 278 C432 200 462 110 523 57 C503 130 488 200 490 272Z"/><path d="M513 272 C590 174 735 152 832 314 C748 206 632 208 538 290Z"/><path d="M528 362 C640 282 828 298 868 474 C810 378 700 346 556 382Z"/><path d="M552 424 C650 500 670 660 642 802 C626 802 626 780 628 740 C628 620 596 525 524 452Z"/><path d="M374 414 C270 420 180 510 168 628 C178 636 200 632 206 616 C226 535 296 475 380 442Z"/><path d="M348 344 C270 322 185 338 126 390 C190 372 270 366 348 372Z"/><path d="M545 452 C592 500 596 565 576 615 C560 560 548 515 520 472Z"/></g><g fill="none" stroke="#111" stroke-linecap="round"><path d="M245 272 C280 275 310 290 330 312" stroke-width="20"/><path d="M275 400 C300 385 325 382 350 384" stroke-width="17"/><path d="M345 510 C355 480 375 460 398 450" stroke-width="17"/><path d="M412 600 C415 550 425 510 442 470" stroke-width="24"/><path d="M487 470 C489 495 490 520 491 540" stroke-width="16"/><path d="M500 250 C505 230 515 215 530 200" stroke-width="16"/><path d="M418 215 C420 245 430 270 442 295" stroke-width="18"/><path d="M528 335 C550 310 575 295 602 285" stroke-width="19"/><path d="M552 398 C575 396 600 402 622 412" stroke-width="17"/></g><g fill="#111" stroke="#111" stroke-width="8" stroke-linejoin="round"><polygon points="161.6,153.4 179.2,173.3 205.5,170.2 192.0,193.0 203.1,217.2 177.2,211.3 157.7,229.3 155.2,202.9 132.1,189.9 156.5,179.4"/><polygon points="430.4,112.9 441.6,151.2 479.4,163.6 446.5,186.1 446.3,225.9 414.8,201.5 376.8,213.7 390.3,176.2 367.0,143.8 406.8,145.0"/><polygon points="572.4,88.1 579.2,105.4 597.3,109.7 582.9,121.5 584.4,140.0 568.8,129.9 551.6,137.1 556.4,119.1 544.2,105.1 562.8,104.0"/><polygon points="752.5,249.9 759.8,286.4 793.9,301.1 761.5,319.2 758.1,356.3 730.8,331.0 694.5,339.2 710.0,305.5 691.0,273.5 728.0,277.9"/><polygon points="650.6,390.2 667.9,418.6 701.0,420.5 679.4,445.6 687.8,477.7 657.2,464.9 629.2,482.9 632.0,449.8 606.3,428.8 638.6,421.1"/><polygon points="160.0,406.0 176.5,439.3 213.3,444.7 186.6,470.7 192.9,507.3 160.0,490.0 127.1,507.3 133.4,470.7 106.7,444.7 143.5,439.3"/><polygon points="227.2,596.1 240.2,640.7 284.3,655.3 245.9,681.4 245.7,727.9 208.9,699.5 164.6,713.6 180.3,669.9 153.2,632.1 199.7,633.5"/><polygon points="411.0,596.8 431.4,624.6 465.9,623.6 445.7,651.6 457.4,684.1 424.5,673.6 397.2,694.7 397.0,660.2 368.5,640.8 401.3,629.9"/><polygon points="607.7,581.8 611.1,612.1 638.0,626.6 610.1,639.2 604.7,669.2 584.1,646.6 553.9,650.7 569.0,624.2 555.8,596.7 585.7,602.9"/></g></svg>
<path d="M477.9 648.9H484.9V659.3H496V666.3H484.9V691.5H477.9V666.3H466.7V659.3H477.9Z" fill="#fff" stroke="#333" stroke-width="1.1" stroke-linejoin="miter"/>
<svg x="698.00" y="650.00" width="70.00" height="60.00" viewBox="0 0 973 834" overflow="visible"><g fill="#fff" stroke="#000" stroke-width="28" stroke-linejoin="round" stroke-linecap="round"><path d="M515 272V215 A55 55 0 0 1 625 215V272"/><path d="M340 275 H785 C815 275 835 295 835 325 V630 C835 660 815 680 785 680 H175 C140 680 125 660 125 625 V520 C125 500 130 485 142 470 L255 318 C275 290 300 275 340 275Z"/><path d="M262 342 H410 V495 H140" fill="none"/><circle cx="280" cy="682" r="62"/><circle cx="675" cy="682" r="62"/><path d="M570 75V120M455 120L495 160M685 120L645 160" fill="none" stroke-width="24"/></g><circle cx="635" cy="430" r="72" fill="#f1f1f1"/><path d="M590 430H682M636 384V476" stroke="#111" stroke-width="24" fill="none"/></svg>
<svg x="416.00" y="768.00" width="52.00" height="52.00" viewBox="0 0 834 834" overflow="visible"><circle cx="420" cy="422" r="321" fill="#a87eaf"/><path d="M420 200 A150 150 0 0 1 570 350 C578 500 530 640 440 752 L338 744 C420 660 470 570 470 492 C455 498 438 500 420 500 A150 150 0 0 1 420 200Z" fill="#fff"/></svg>
</svg>
<div class="b" style="left:206.9px;top:18.9px;font-size:31.8px;transform:scaleX(0.8939)">КОГДА НЕЛЬЗЯ ШУМЕТЬ В КВАРТИРЕ?</div>
<div class="b" style="left:327.5px;top:79.1px;font-size:25.4px;transform:scaleX(0.9177)">В СТАВРОПОЛЬСКОМ КРАЕ</div>
<div class="t" style="left:165.5px;top:372.0px;font-size:17.7px;transform:scaleX(0.9443)">В МЕСТАХ ТОРГОВЛИ, ОБЩЕСТВЕННОГО ПИТАНИЯ, РАЗВЛЕЧЕНИЯ И ДОСУГА</div>
<div class="t" style="left:419.6px;top:539.4px;font-size:18.0px;transform:scaleX(0.9553)">ИСКЛЮЧЕНИЯ</div>
<div class="b" style="left:786.6px;top:142.5px;font-size:14.1px;transform:scaleX(1.2717)">!</div>
<div class="t" style="left:31.6px;top:209.2px;font-size:13.0px;transform:scaleX(1.0035)">с 22:00 до 7:00</div>
<div class="t" style="left:34.6px;top:340.5px;font-size:13.0px;transform:scaleX(1.0013)">с 20:00 до 8:00</div>
<div class="t" style="left:39.6px;top:483.3px;font-size:13.0px;transform:scaleX(1.0137)">с 22:00 до 8:00</div>
<div class="t" style="left:37.7px;top:500.0px;font-size:13.0px;transform:scaleX(1.0045)">(с 23:00 до 8:00</div>
<div class="t" style="left:19.7px;top:516.4px;font-size:13.0px;transform:scaleX(1.0562)">в пт, сб и праздники)</div>
<div class="t" style="left:164.2px;top:180.8px;font-size:13.5px;transform:scaleX(1.0437)">использование</div>
<div class="t" style="left:136.1px;top:192.8px;font-size:13.5px;transform:scaleX(1.0465)">звуковоспроизводящих</div>
<div class="t" style="left:181.5px;top:204.6px;font-size:13.5px;transform:scaleX(1.0169)">устройств</div>
<div class="t" style="left:298.7px;top:181.5px;font-size:13.5px;transform:scaleX(1.1390)">крик</div>
<div class="t" style="left:346.4px;top:181.0px;font-size:13.5px;transform:scaleX(1.0416)">использование</div>
<div class="t" style="left:340.0px;top:192.8px;font-size:13.5px;transform:scaleX(1.0480)">пиротехнических</div>
<div class="t" style="left:371.1px;top:204.6px;font-size:13.5px;transform:scaleX(1.0139)">средств</div>
<div class="t" style="left:465.4px;top:181.5px;font-size:13.5px;transform:scaleX(0.9936)">свист</div>
<div class="t" style="left:520.4px;top:181.5px;font-size:13.5px;transform:scaleX(1.0209)">бездействие при</div>
<div class="t" style="left:518.7px;top:193.7px;font-size:13.5px;transform:scaleX(1.0434)">работе охранной</div>
<div class="t" style="left:515.4px;top:206.2px;font-size:13.5px;transform:scaleX(1.0250)">автосигнализации</div>
<div class="t" style="left:673.6px;top:181.2px;font-size:13.5px;transform:scaleX(1.0193)">игра на</div>
<div class="t" style="left:638.7px;top:193.9px;font-size:13.5px;transform:scaleX(0.9989)">муз. инструментах</div>
<div class="t" style="left:759.8px;top:181.2px;font-size:13.5px;transform:scaleX(1.0579)">громкая</div>
<div class="t" style="left:770.5px;top:193.9px;font-size:13.5px;transform:scaleX(1.0661)">речь</div>
<div class="t" style="left:824.6px;top:181.2px;font-size:13.5px;transform:scaleX(0.9966)">танцы</div>
<div class="t" style="left:869.4px;top:181.2px;font-size:13.5px;transform:scaleX(1.0111)">иные действия,</div>
<div class="t" style="left:876.1px;top:193.9px;font-size:13.5px;transform:scaleX(0.9982)">нарушающие</div>
<div class="t" style="left:895.2px;top:206.1px;font-size:13.5px;transform:scaleX(0.9804)">тишину</div>
<div class="t" style="left:163.4px;top:326.1px;font-size:13.5px;transform:scaleX(1.0193)">ремонтные, строительные,</div>
<div class="t" style="left:140.2px;top:337.6px;font-size:13.5px;transform:scaleX(1.0419)">погрузочно-разгрузочные работы</div>
<div class="t" style="left:185.7px;top:472.7px;font-size:13.5px;transform:scaleX(1.0405)">использование</div>
<div class="t" style="left:158.5px;top:485.0px;font-size:13.5px;transform:scaleX(1.0410)">звуковоспроизводящих</div>
<div class="t" style="left:202.9px;top:496.8px;font-size:13.5px;transform:scaleX(1.0283)">устройств</div>
<div class="t" style="left:135.7px;top:606.7px;font-size:13.5px;transform:scaleX(1.0191)">предотвращение</div>
<div class="t" style="left:144.6px;top:623.4px;font-size:13.5px;transform:scaleX(1.0418)">преступлений</div>
<div class="t" style="left:304.4px;top:607.2px;font-size:13.5px;transform:scaleX(1.0114)">ликвидация аварий,</div>
<div class="t" style="left:287.3px;top:623.8px;font-size:13.5px;transform:scaleX(1.0057)">стихийных бедствий и ЧС</div>
<div class="t" style="left:521.1px;top:602.1px;font-size:13.5px;transform:scaleX(1.0387)">благоустройство и</div>
<div class="t" style="left:520.4px;top:618.8px;font-size:13.5px;transform:scaleX(1.0412)">уборка территорий</div>
<div class="t" style="left:697.9px;top:599.8px;font-size:13.5px;transform:scaleX(1.0303)">проведение спортивных</div>
<div class="t" style="left:704.6px;top:616.1px;font-size:13.5px;transform:scaleX(1.0215)">и культурно-массовых</div>
<div class="t" style="left:732.5px;top:632.8px;font-size:13.5px;transform:scaleX(1.0598)">мероприятий</div>
<div class="t" style="left:148.8px;top:705.8px;font-size:13.5px;transform:scaleX(1.0367)">использование пиротехнических</div>
<div class="t" style="left:128.0px;top:723.4px;font-size:13.5px;transform:scaleX(0.9999)">средств в период с 23 часов 31 декабря</div>
<div class="t" style="left:192.2px;top:739.8px;font-size:13.5px;transform:scaleX(0.9898)">до 2 часов 1 января</div>
<div class="t" style="left:404.6px;top:706.6px;font-size:13.5px;transform:scaleX(1.0426)">проведение религиозных</div>
<div class="t" style="left:416.1px;top:722.9px;font-size:13.5px;transform:scaleX(1.0445)">обрядов и церемоний</div>
<div class="t" style="left:636.1px;top:708.1px;font-size:13.5px;transform:scaleX(1.0125)">использование спец. сигналов</div>
<div class="t" style="left:626.9px;top:724.5px;font-size:13.5px;transform:scaleX(1.0054)">в транспорте с соответствующего</div>
<div class="t" style="left:693.8px;top:741.0px;font-size:13.5px;transform:scaleX(1.0184)">разрешения</div>
<div class="logo" style="left:471.2px;top:785.3px;font-size:15.2px;font-weight:700;color:#111;transform:scaleX(1.1337)">атв</div><div class="logo" style="left:499.3px;top:785.3px;font-size:15.2px;font-weight:400;color:#b98fc0;transform:scaleX(1.0203)">медиа</div>
</body></html>
